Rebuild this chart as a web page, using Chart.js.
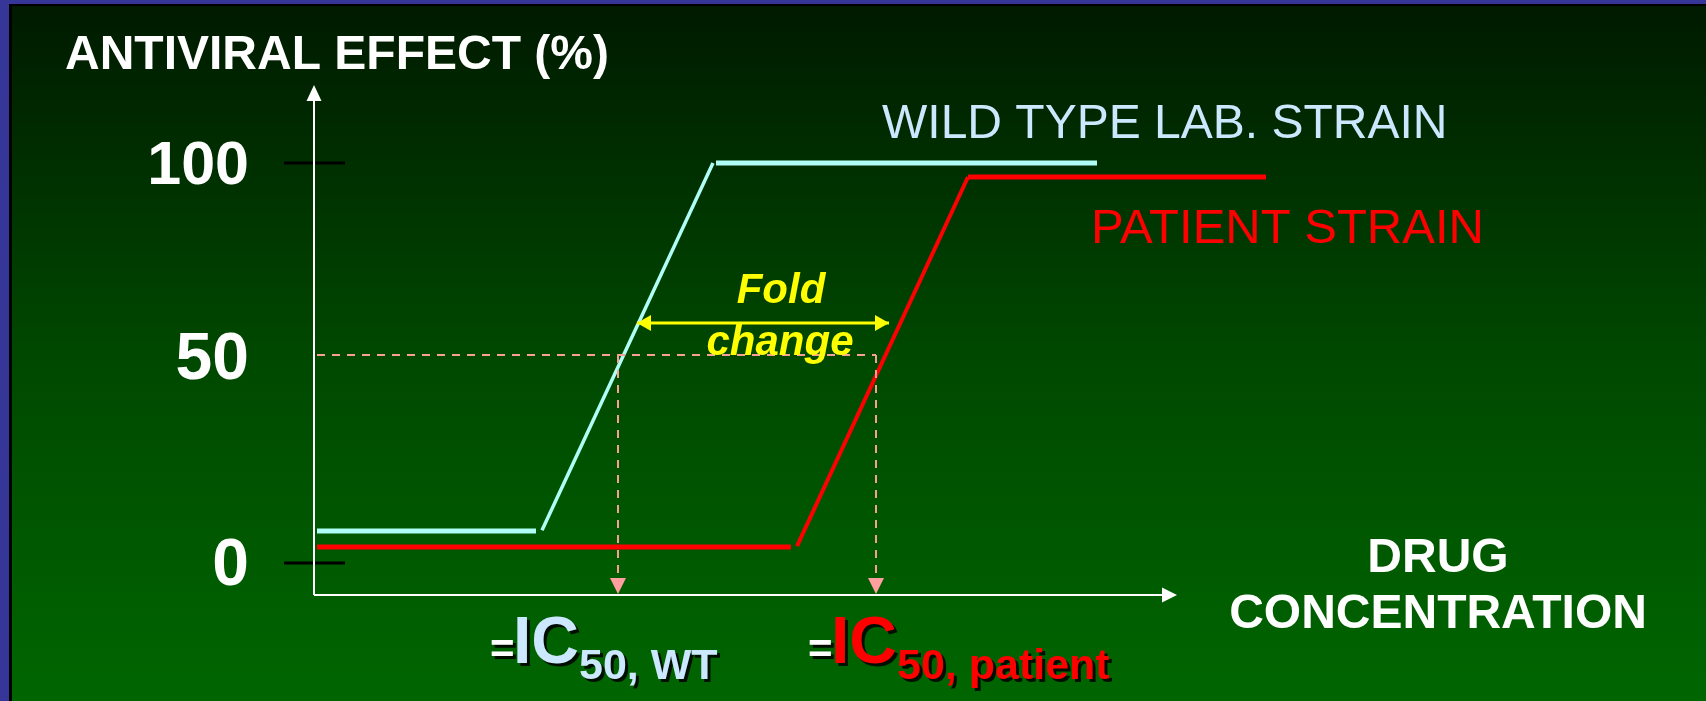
<!DOCTYPE html>
<html>
<head>
    <title>Antiviral effect vs drug concentration</title>
    <script src="https://cdn.jsdelivr.net/npm/chart.js"></script>
    <style>
        html, body {
            margin: 0;
            padding: 0;
            background: #363699;
            overflow: hidden;
        }
        canvas {
            display: block;
        }
    </style>
</head>
<body>
    <canvas id="ic50Chart" width="1706" height="701"></canvas>

    <script>
        // x = drug concentration (arbitrary units), y = antiviral effect (%)
        const wtX = [0.3, 22.2, 22.8, 39.9, 40.2, 78.3];
        const wtY = [8, 8, 8.2, 100, 100, 100];
        const patientX = [0.3, 47.7, 48.3, 65.4, 65.4, 95.2];
        const patientY = [4, 4, 4.2, 96.5, 96.5, 96.5];

        // IC50 guide lines
        const ic50Effect = 52;
        const ic50StartX = 0.3;
        const ic50WtX = 30.4;
        const ic50PatientX = 56.2;
        const dropEndY = -3.75;

        // fold change arrow
        const foldY = 60;
        const foldFromX = 32.3;
        const foldToX = 57.5;

        // axis
        const yTickValues = [0, 51.5, 100];
        const yTickLabels = ['0', '50', '100'];
        const yTickMarks = [0, 100];
        const xAxisEnd = 86.3;

        const FONT = '"Liberation Sans", Arial, Helvetica, sans-serif';
        const WT_LINE = '#b0fff6';
        const WT_TEXT = '#cce8ff';
        const RED = '#ff0000';
        const PINK = '#f9a096';
        const YELLOW = '#ffff00';

        function seg(xs, ys, from, to, color, width, extra) {
            const data = [];
            for (let i = from; i <= to; i++) {
                data.push({ x: xs[i], y: ys[i] });
            }
            return Object.assign({
                data: data,
                showLine: true,
                borderColor: color,
                borderWidth: width,
                pointRadius: 0,
                fill: false,
                order: 1
            }, extra || {});
        }

        function arrowHead(ctx, x, y, dx, dy, len, half, color) {
            // tip at (x, y), pointing in direction (dx, dy)
            ctx.beginPath();
            ctx.moveTo(x, y);
            ctx.lineTo(x - dx * len - dy * half, y - dy * len + dx * half);
            ctx.lineTo(x - dx * len + dy * half, y - dy * len - dx * half);
            ctx.closePath();
            ctx.fillStyle = color;
            ctx.fill();
        }

        function drawIc(ctx, x, color, sub) {
            ctx.save();
            ctx.shadowColor = 'rgba(0, 0, 0, 0.85)';
            ctx.shadowOffsetX = 3;
            ctx.shadowOffsetY = 3;
            ctx.textAlign = 'left';
            ctx.textBaseline = 'alphabetic';
            ctx.font = 'bold 42px ' + FONT;
            ctx.fillStyle = '#ffffff';
            ctx.fillText('=', x, 663);
            x += 23;
            ctx.font = 'bold 66px ' + FONT;
            ctx.fillStyle = color;
            ctx.fillText('IC', x, 663);
            x += ctx.measureText('IC').width;
            ctx.font = 'bold 43px ' + FONT;
            ctx.fillText(sub, x, 679);
            ctx.restore();
        }

        function text(ctx, str, x, y, font, color, align) {
            ctx.font = font;
            ctx.fillStyle = color;
            ctx.textAlign = align || 'left';
            ctx.textBaseline = 'alphabetic';
            ctx.fillText(str, x, y);
        }

        const slidePlugin = {
            id: 'slide',
            beforeDraw(chart) {
                const ctx = chart.ctx;
                ctx.save();
                ctx.fillStyle = '#363699';
                ctx.fillRect(0, 0, chart.width, chart.height);
                ctx.fillStyle = '#000000';
                ctx.fillRect(9, 4, chart.width - 9, chart.height - 4);
                const g = ctx.createLinearGradient(0, 6, 0, chart.height);
                g.addColorStop(0, '#001a00');
                g.addColorStop(0.5, '#004800');
                g.addColorStop(1, '#006600');
                ctx.fillStyle = g;
                ctx.fillRect(12, 6, chart.width - 12, chart.height - 6);
                ctx.restore();
            },
            beforeDatasetsDraw(chart) {
                const ctx = chart.ctx;
                const xs = chart.scales.x;
                const ys = chart.scales.y;
                const x0 = xs.getPixelForValue(0);
                const yBottom = ys.getPixelForValue(ys.min);
                const yTop = ys.getPixelForValue(ys.max);
                const xEnd = xs.getPixelForValue(xAxisEnd);
                ctx.save();
                // tick marks
                ctx.strokeStyle = '#000000';
                ctx.lineWidth = 3;
                yTickMarks.forEach(v => {
                    const py = ys.getPixelForValue(v);
                    ctx.beginPath();
                    ctx.moveTo(x0 - 30, py);
                    ctx.lineTo(x0 + 31, py);
                    ctx.stroke();
                });
                // axes
                ctx.strokeStyle = '#ffffff';
                ctx.lineWidth = 2;
                ctx.beginPath();
                ctx.moveTo(x0, yBottom);
                ctx.lineTo(x0, yTop + 14);
                ctx.moveTo(x0, yBottom);
                ctx.lineTo(xEnd - 14, yBottom);
                ctx.stroke();
                arrowHead(ctx, x0, yTop, 0, -1, 16, 7.5, '#ffffff');
                arrowHead(ctx, xEnd, yBottom, 1, 0, 15, 7.5, '#ffffff');
                ctx.restore();
            },
            afterDatasetsDraw(chart) {
                const ctx = chart.ctx;
                const xs = chart.scales.x;
                const ys = chart.scales.y;
                ctx.save();
                // IC50 drop arrows
                const dropPx = ys.getPixelForValue(dropEndY);
                [ic50WtX, ic50PatientX].forEach(v => {
                    arrowHead(ctx, xs.getPixelForValue(v), dropPx + 16, 0, 1, 16, 8, '#ff9f9f');
                });
                // fold change arrow heads
                const fy = ys.getPixelForValue(foldY);
                arrowHead(ctx, xs.getPixelForValue(foldFromX), fy, -1, 0, 14, 8, YELLOW);
                arrowHead(ctx, xs.getPixelForValue(foldToX), fy, 1, 0, 14, 8, YELLOW);

                text(ctx, 'ANTIVIRAL EFFECT (%)', 65, 69, 'bold 48px ' + FONT, '#ffffff');
                text(ctx, 'WILD TYPE LAB. STRAIN', 882, 138, '48px ' + FONT, WT_TEXT);
                text(ctx, 'PATIENT STRAIN', 1091, 243, '49px ' + FONT, RED);
                text(ctx, 'Fold', 781, 303, 'italic bold 42px ' + FONT, YELLOW, 'center');
                text(ctx, 'change', 780, 355, 'italic bold 42px ' + FONT, YELLOW, 'center');
                text(ctx, 'DRUG', 1438, 572, 'bold 48px ' + FONT, '#ffffff', 'center');
                text(ctx, 'CONCENTRATION', 1438, 628, 'bold 48px ' + FONT, '#ffffff', 'center');

                drawIc(ctx, 490, WT_TEXT, '50, WT');
                drawIc(ctx, 808, RED, '50, patient');
                ctx.restore();
            }
        };

        const dashed = { borderDash: [8, 7], order: 0 };

        new Chart(document.getElementById('ic50Chart'), {
            type: 'scatter',
            data: {
                datasets: [
                    // IC50 guides
                    seg([ic50StartX, ic50PatientX], [ic50Effect, ic50Effect], 0, 1, PINK, 2, dashed),
                    seg([ic50WtX, ic50WtX], [ic50Effect, dropEndY], 0, 1, PINK, 2, dashed),
                    seg([ic50PatientX, ic50PatientX], [ic50Effect, dropEndY], 0, 1, PINK, 2, dashed),
                    // wild type curve
                    seg(wtX, wtY, 0, 1, WT_LINE, 5),
                    seg(wtX, wtY, 2, 3, WT_LINE, 3.5),
                    seg(wtX, wtY, 4, 5, WT_LINE, 5),
                    // patient curve
                    seg(patientX, patientY, 0, 1, RED, 5),
                    seg(patientX, patientY, 2, 3, RED, 4),
                    seg(patientX, patientY, 4, 5, RED, 5),
                    // fold change
                    seg([foldFromX, foldToX], [foldY, foldY], 0, 1, YELLOW, 3, { order: 0 })
                ]
            },
            options: {
                responsive: false,
                animation: false,
                events: [],
                layout: {
                    padding: { left: 0, top: 85, right: 392, bottom: 106 }
                },
                plugins: {
                    legend: { display: false },
                    tooltip: { enabled: false },
                    title: { display: false }
                },
                scales: {
                    x: {
                        type: 'linear',
                        min: 0,
                        max: 100,
                        display: false
                    },
                    y: {
                        type: 'linear',
                        min: -8,
                        max: 119.5,
                        grid: { display: false, drawTicks: false },
                        border: { display: false },
                        afterBuildTicks: function(scale) {
                            scale.ticks = yTickValues.map(v => ({ value: v }));
                        },
                        afterFit: function(scale) {
                            scale.width = 314;
                            scale.paddingTop = 0;
                            scale.paddingBottom = 0;
                        },
                        ticks: {
                            padding: 65,
                            labelOffset: 4,
                            color: '#ffffff',
                            font: function(ctx) {
                                // the "100" label is set a little smaller than the others
                                return { family: FONT, size: ctx.index === 2 ? 61 : 66, weight: 'bold' };
                            },
                            callback: function(value, index) {
                                return yTickLabels[index];
                            }
                        }
                    }
                }
            },
            plugins: [slidePlugin]
        });
    </script>
</body>
</html>
